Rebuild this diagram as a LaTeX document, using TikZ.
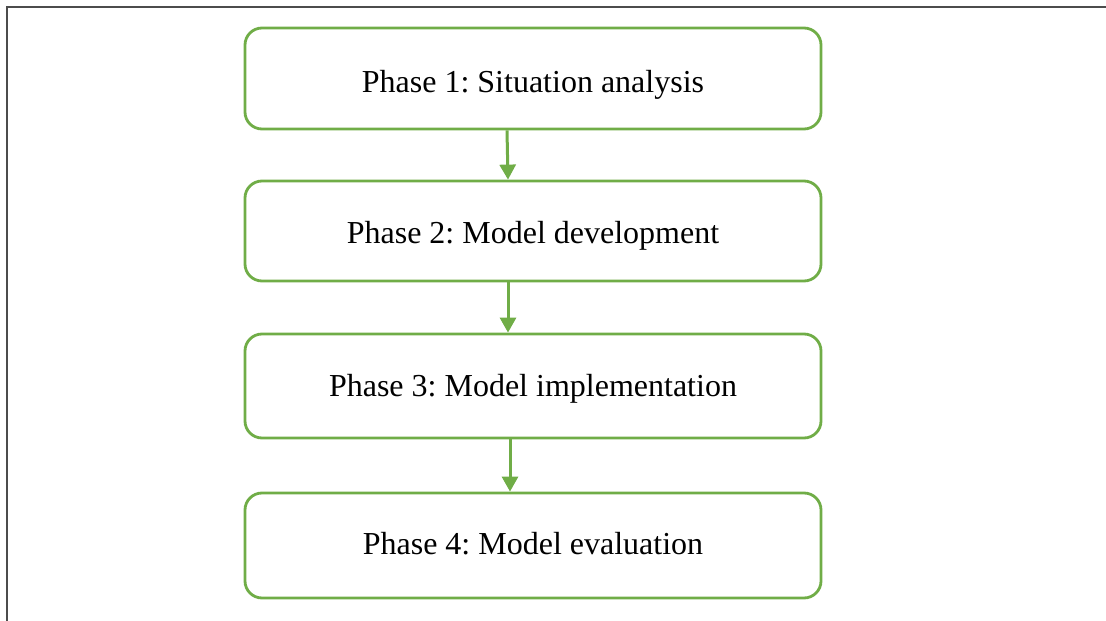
\documentclass[tikz,border=0pt]{standalone}
\usepackage{fontspec}
\setmainfont{Liberation Serif}
\usetikzlibrary{arrows.meta}
\definecolor{phasegreen}{HTML}{70AD47}
\frenchspacing
\begin{document}
\begin{tikzpicture}[x=1pt,y=-1pt,
  phasebox/.style={draw=phasegreen, line width=2.8pt, rounded corners=17pt,
    minimum width=576pt, inner sep=0pt, text depth=7pt,
    font=\fontsize{32}{38}\selectfont},
  flow/.style={draw=phasegreen, line width=3pt,
    -{Triangle[width=16pt,length=15pt]}}]
  \useasboundingbox (0,0) rectangle (1106,621);
  % frame (top and left edges)
  \draw[line width=2pt, black!70] (6.5,621) -- (6.5,7) -- (1106,7);
  % phases
  \node[phasebox, minimum height=101pt, text height=34pt] (b1) at (533,78.5) {Phase 1: Situation analysis};
  \node[phasebox, minimum height=100pt, text height=32pt] (b2) at (533,231) {Phase 2: Model development};
  \node[phasebox, minimum height=104pt, text height=28pt] (b3) at (533,386) {Phase 3: Model implementation};
  \node[phasebox, minimum height=105pt, text height=25pt] (b4) at (533,545.5) {Phase 4: Model evaluation};
  % connectors
  \draw[flow] ([xshift=-26pt]b1.south) -- ([xshift=-25pt]b2.north);
  \draw[flow] ([xshift=-25pt]b2.south) -- ([xshift=-25pt]b3.north);
  \draw[flow] ([xshift=-23pt]b3.south) -- ([xshift=-23pt]b4.north);
\end{tikzpicture}
\end{document}
